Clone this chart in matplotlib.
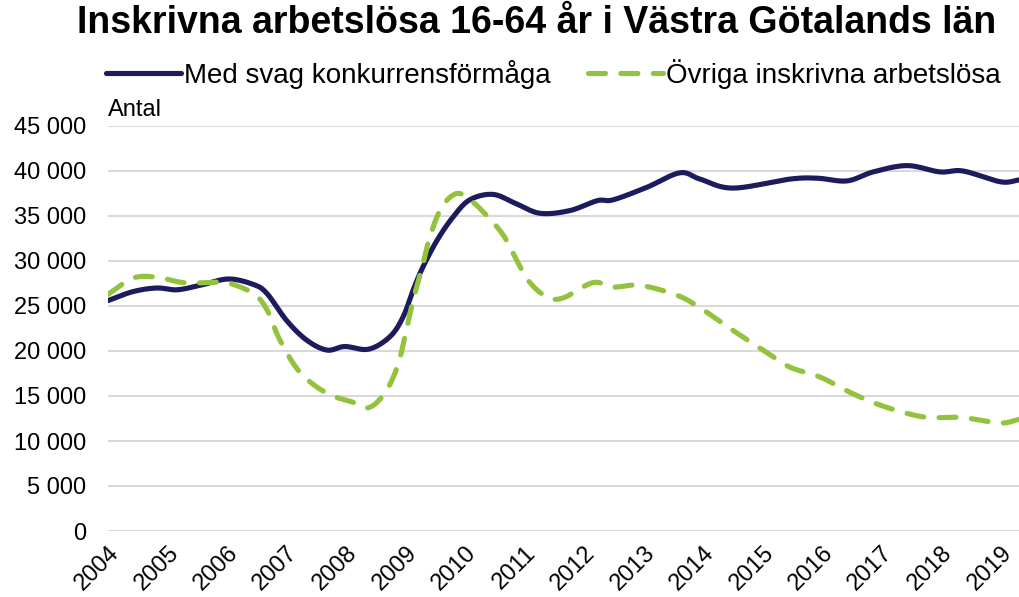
import numpy as np
import matplotlib.pyplot as plt
from matplotlib.ticker import FuncFormatter
from matplotlib.transforms import ScaledTranslation

# Data (year, number of people)
svag_year = [2004.0, 2004.42, 2004.82, 2005.16, 2005.55, 2006.02, 2006.44, 2006.67,
             2007.0, 2007.34, 2007.68, 2007.98, 2008.38, 2008.74, 2008.96, 2009.13,
             2009.29, 2009.53, 2009.8, 2010.08, 2010.47, 2010.85, 2011.26, 2011.76,
             2012.22, 2012.49, 2013.06, 2013.61, 2013.95, 2014.5, 2015.46, 2015.92,
             2016.42, 2016.86, 2017.43, 2017.98, 2018.37, 2019.0, 2019.31]
svag_antal = [25600, 26600, 27000, 26800, 27300, 28000, 27400, 26400,
              23400, 21200, 20100, 20500, 20200, 21600, 23800, 26800,
              29300, 32300, 34900, 36800, 37400, 36400, 35300, 35600,
              36700, 36800, 38200, 39800, 39100, 38100, 39100, 39200,
              38900, 39900, 40600, 39900, 40000, 38800, 39000]

ovriga_year = [2004.0, 2004.42, 2004.82, 2005.26, 2005.71, 2006.0, 2006.44, 2006.67,
               2006.89, 2007.23, 2007.68, 2008.12, 2008.38, 2008.65, 2008.86, 2008.99,
               2009.13, 2009.28, 2009.41, 2009.61, 2009.86, 2010.08, 2010.3, 2010.64,
               2010.89, 2011.09, 2011.38, 2011.65, 2012.15, 2012.49, 2012.94, 2013.56,
               2013.95, 2014.5, 2015.08, 2015.46, 2015.97, 2016.47, 2016.97, 2017.53,
               2017.87, 2018.37, 2018.99, 2019.31]
ovriga_antal = [26300, 28100, 28200, 27600, 27600, 27600, 26400, 24600,
                21200, 17600, 15300, 14300, 13700, 15300, 18200, 21600,
                25700, 29300, 32700, 36000, 37500, 36800, 35500, 32900,
                29800, 27600, 26000, 25900, 27600, 27100, 27300, 26200,
                24800, 22300, 19800, 18200, 17100, 15400, 14000, 12900,
                12600, 12600, 12000, 12400]

years = list(range(2004, 2020))
title = "Inskrivna arbetslösa 16-64 år i Västra Götalands län"


def smooth(x, y, n=20):
    # Catmull-Rom spline, similar to Excel's smoothed lines
    x = np.asarray(x, float)
    y = np.asarray(y, float)
    px = np.concatenate([[2 * x[0] - x[1]], x, [2 * x[-1] - x[-2]]])
    py = np.concatenate([[2 * y[0] - y[1]], y, [2 * y[-1] - y[-2]]])
    t = np.linspace(0, 1, n, endpoint=False)
    xs, ys = [], []
    for i in range(1, len(px) - 2):
        for p, out in ((px, xs), (py, ys)):
            p0, p1, p2, p3 = p[i - 1], p[i], p[i + 1], p[i + 2]
            out.extend(0.5 * (2 * p1 + (-p0 + p2) * t
                              + (2 * p0 - 5 * p1 + 4 * p2 - p3) * t ** 2
                              + (-p0 + 3 * p1 - 3 * p2 + p3) * t ** 3))
    xs.append(x[-1])
    ys.append(y[-1])
    return xs, ys


plt.rcParams['font.family'] = ['Liberation Sans', 'DejaVu Sans']

fig = plt.figure(figsize=(10.19, 5.97), dpi=100)
ax = fig.add_axes([108 / 1019, 1 - 531 / 597, 911 / 1019, 405 / 597])

navy = '#1e1b5d'
green = '#93c23e'

sx, sy = smooth(svag_year, svag_antal)
ax.plot(sx, sy, color=navy, lw=3.7, solid_capstyle='round',
        label='Med svag konkurrensförmåga', zorder=3)
ox, oy = smooth(ovriga_year, ovriga_antal)
ax.plot(ox, oy, color=green, lw=3.7, dashes=(3.3, 3.0), dash_capstyle='round',
        label='Övriga inskrivna arbetslösa', zorder=3)

ax.set_xlim(2004, 2019.31)
ax.set_ylim(0, 45000)
ax.set_yticks(range(0, 45001, 5000))
ax.yaxis.set_major_formatter(FuncFormatter(lambda v, p: f"{int(v):,}".replace(",", " ")))
ax.set_xticks(years)
ax.set_xticklabels([str(y) for y in years], rotation=45, ha='right', va='top',
                   rotation_mode='anchor')
shift = ScaledTranslation(-4 / 100, 0, fig.dpi_scale_trans)
for lab in ax.get_xticklabels():
    lab.set_transform(lab.get_transform() + shift)
ax.tick_params(axis='both', length=0, labelsize=17)
ax.tick_params(axis='y', pad=16)
ax.tick_params(axis='x', pad=8)
ax.grid(axis='y', color='#d9d9d9', lw=1.5)
ax.set_axisbelow(True)
for s in ax.spines.values():
    s.set_visible(False)

fig.text(537 / 1019, 1 - 23 / 597, title, ha='center', va='center',
         fontsize=27, fontweight='bold')
fig.text(108 / 1019, 1 - 110 / 597, 'Antal', ha='left', va='center', fontsize=17)
fig.legend(loc='center', bbox_to_anchor=(553 / 1019, 1 - 74 / 597), ncol=2,
           frameon=False, fontsize=20, handlelength=2.7, handletextpad=0.1,
           columnspacing=1.35)

fig.savefig('out.png', dpi=100)
